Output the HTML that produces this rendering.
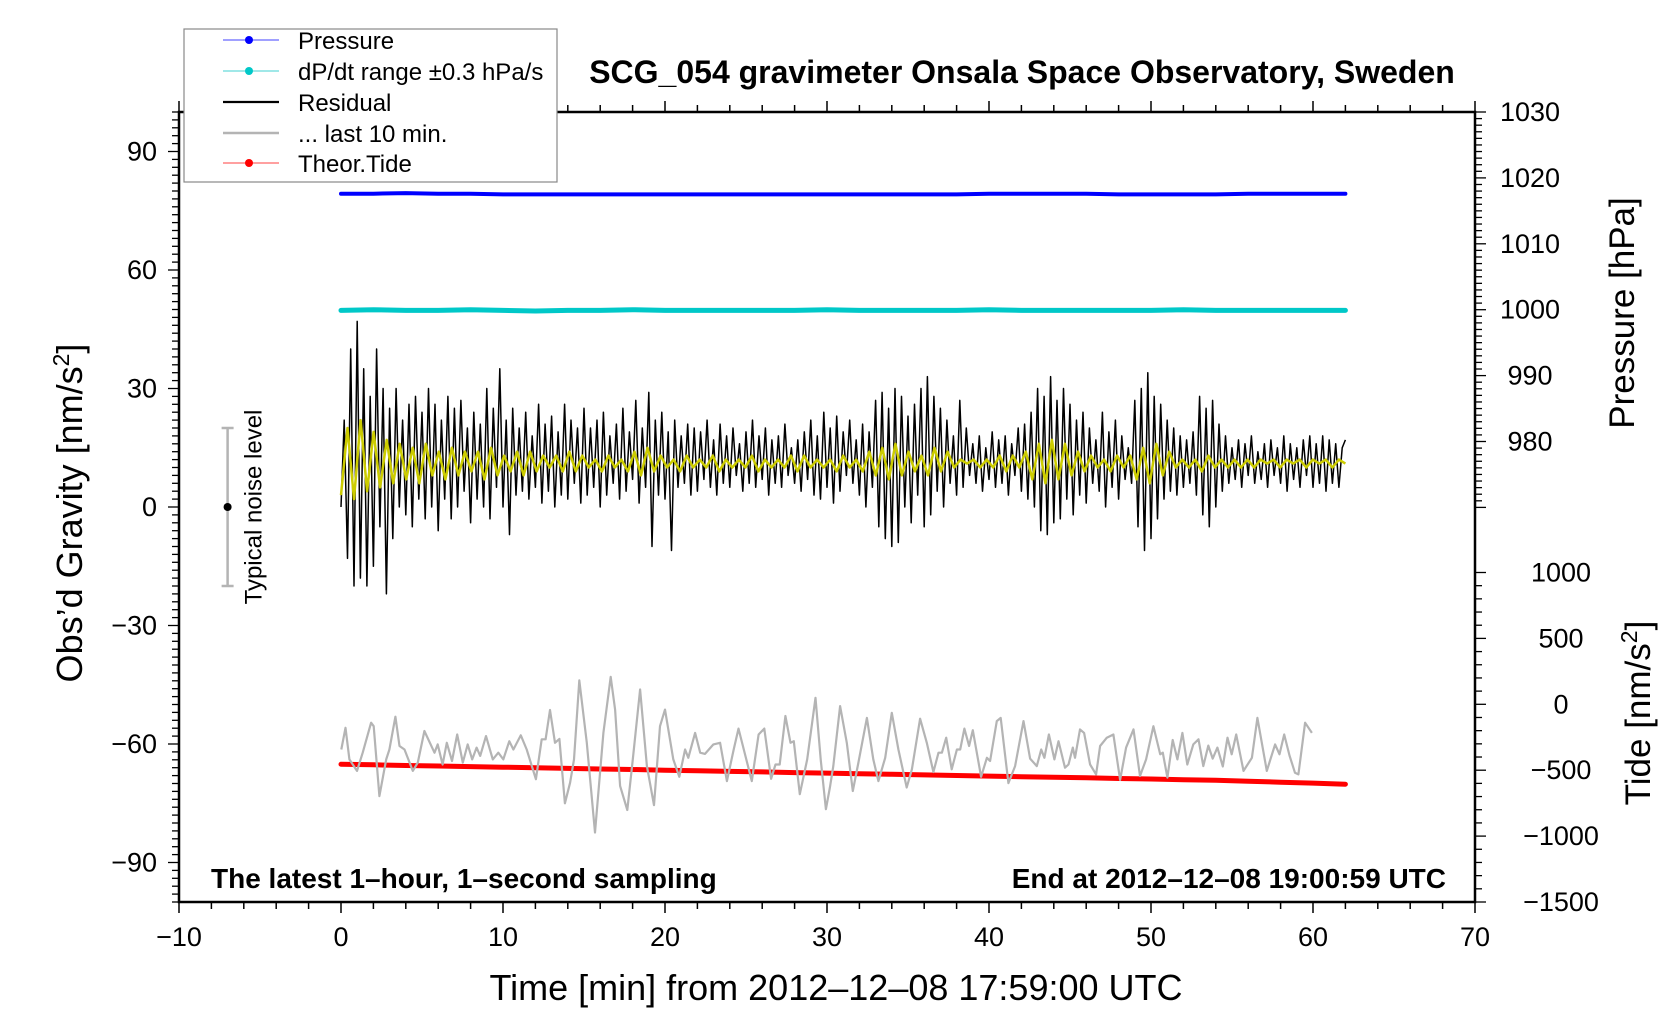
<!DOCTYPE html>
<html><head><meta charset="utf-8">
<style>
html,body{margin:0;padding:0;background:#fff;}
svg{display:block;font-family:"Liberation Sans",Arial,sans-serif;}
</style></head>
<body>
<svg id="chart" width="1676" height="1020" viewBox="0 0 1676 1020" xmlns="http://www.w3.org/2000/svg">
<rect x="0" y="0" width="1676" height="1020" fill="#fff"/>
<g id="marks"></g>
<g id="axes"></g>
<text x="1022" y="83" text-anchor="middle" font-size="32" font-weight="bold">SCG_054 gravimeter Onsala Space Observatory, Sweden</text>
<text x="211" y="888" font-size="28" font-weight="bold">The latest 1–hour, 1–second sampling</text>
<text x="1446" y="888" text-anchor="end" font-size="28" font-weight="bold">End at 2012–12–08 19:00:59 UTC</text>
<text x="836" y="1000" text-anchor="middle" font-size="36">Time [min] from 2012–12–08 17:59:00 UTC</text>
<text transform="translate(82,513) rotate(-90)" text-anchor="middle" font-size="36">Obs’d Gravity [nm/s<tspan baseline-shift="super" font-size="23">2</tspan>]</text>
<text transform="translate(1634,313) rotate(-90)" text-anchor="middle" font-size="35">Pressure [hPa]</text>
<text transform="translate(1650,713) rotate(-90)" text-anchor="middle" font-size="35">Tide [nm/s<tspan baseline-shift="super" font-size="23">2</tspan>]</text>
<g>
<rect x="184" y="29" width="373" height="153" fill="#fff" stroke="#888" stroke-width="1.2"/>
<g><line x1="223" y1="40" x2="279" y2="40" stroke="#4040ff" stroke-width="1"/><circle cx="249" cy="40" r="4" fill="#0000ff"/><text x="298" y="49" font-size="24">Pressure</text></g>
<g><line x1="223" y1="71" x2="279" y2="71" stroke="#40d0d0" stroke-width="1"/><circle cx="249" cy="71" r="4" fill="#00c8c8"/><text x="298" y="80" font-size="24">dP/dt range ±0.3 hPa/s</text></g>
<g><line x1="223" y1="102" x2="279" y2="102" stroke="#000" stroke-width="2.2"/><text x="298" y="111" font-size="24">Residual</text></g>
<g><line x1="223" y1="133" x2="279" y2="133" stroke="#b4b4b4" stroke-width="2.5"/><text x="298" y="142" font-size="24">... last 10 min.</text></g>
<g><line x1="223" y1="163" x2="279" y2="163" stroke="#ff4040" stroke-width="1"/><circle cx="249" cy="163" r="4" fill="#ff0000"/><text x="298" y="172" font-size="24">Theor.Tide</text></g>
</g>
</svg>
<script>
const xTicks=[-10,0,10,20,30,40,50,60,70];
const gravTicks=[-90,-60,-30,0,30,60,90];
const pressTicks=[980,990,1000,1010,1020,1030];
const tideTicks=[-1500,-1000,-500,0,500,1000];
const pressure=[1017.6,1017.6,1017.7,1017.6,1017.6,1017.5,1017.5,1017.5,1017.5,1017.5,1017.5,1017.5,1017.5,1017.5,1017.5,1017.5,1017.5,1017.5,1017.5,1017.5,1017.6,1017.6,1017.6,1017.6,1017.5,1017.5,1017.5,1017.5,1017.6,1017.6,1017.6,1017.6];
const dpdt=[999.9,1000.0,999.9,999.9,1000.0,999.9,999.8,999.9,999.9,1000.0,999.9,999.9,999.9,999.9,999.9,1000.0,999.9,999.9,999.9,999.9,1000.0,999.9,999.9,999.9,999.9,999.9,1000.0,999.9,999.9,999.9,999.9,999.9];
const tide=[-455,-459,-464,-468,-473,-477,-482,-486,-491,-495,-500,-504,-509,-513,-518,-522,-527,-531,-536,-540,-545,-549,-554,-558,-563,-567,-572,-577,-584,-591,-598,-606];
const residual=[0,22,-13,40,-20, 47,-18,35,-20,28, -15,40,-5,30,-22, 25,-8,30,0,22, -2,26,-5,28,2, 24,-3,30,0,26, -6,22,2,28,-3, 25,0,27,4,20, -4,24,2,21,0, 30,-3,25,5,35,
0,22,-7,25,3, 20,4,24,2,18, 5,26,1,21,4, 23,0,19,3,26, 2,22,6,20,1, 25,3,20,5,22, 0,24,3,18,6, 21,2,25,4,19, 7,27,1,20,5, 29,-10,22,3,24,
2,19,-11,22,5, 18,6,21,3,20, 4,19,7,22,5, 17,3,21,6,18, 5,20,8,16,4, 19,6,22,5,18, 7,20,3,17,6, 18,5,21,8,15, 6,17,4,19,7, 22,3,18,2,24,
5,20,1,23,4, 19,8,22,6,17, 3,21,0,19,5, 27,-5,29,-8,25, -10,30,-9,28,0, 23,-4,26,3,30, -5,33,-2,28,4, 25,0,22,6,18, 3,27,5,20,8, 16,6,18,4,15,
7,19,5,17,6, 18,3,16,8,20, 4,21,2,24,0, 30,-6,28,-7,33, -4,27,-3,30,2, 26,-2,22,3,24, 1,20,6,17,4, 24,0,19,5,22, 2,18,7,15,6, 27,-5,30,-11,34,
-8,28,-3,26,2, 22,4,20,3,18, 5,17,6,19,3, 28,-2,25,-5,27, 0,21,4,18,6, 15,7,17,5,16, 8,18,6,14,7, 16,5,17,8,15, 6,18,4,16,7, 15,5,17,8,18,
5,16,6,18,4, 17,6,16,5,15,17];
const smoothed=[3,20,2,22,4,19,5,17,6,16, 7,15,6,16,8,14,7,15,8,14, 9,14,7,15,8,13,9,14,8,14, 9,13,10,13,9,14,9,13,10,12, 9,13,10,12,9,14,8,15,9,13,
10,12,9,13,10,12,10,13,9,12, 10,12,10,13,9,12,10,12,10,13, 9,13,10,12,10,12,9,13,10,12, 9,14,8,15,7,16,8,14,9,13, 8,15,9,14,10,12,11,12,10,12,
10,13,9,13,10,14,7,16,6,17, 7,16,8,14,9,13,10,12,9,13, 10,13,7,15,6,16,8,14,10,12, 10,12,9,13,10,12,10,12,10,12, 10,12,11,12,10,12,11,12,10,12, 11,12,10,12,11];
const lastTimes=[0.02,0.28,0.52,0.99,1.34,1.86,2.02,2.37,2.79,2.99,3.36,3.61,3.92,4.43,4.74,5.15,5.77,5.97,6.27,6.53,6.85,7.17,7.52,7.82,8.10,8.37,8.59,8.95,9.37,9.71,10.02,10.39,10.64,11.10,11.46,12.03,12.39,12.63,12.90,13.21,13.48,13.82,14.14,14.38,14.71,15.17,15.68,16.20,16.65,16.92,17.23,17.67,18.01,18.46,18.88,19.32,19.69,20.00,20.51,20.88,21.24,21.44,21.86,22.17,22.47,22.99,23.40,23.82,24.24,24.54,25.36,25.78,26.13,26.55,26.82,27.08,27.43,27.75,27.95,28.32,28.78,29.29,29.61,29.93,30.18,30.39,30.81,31.22,31.59,31.94,32.46,32.86,33.17,33.59,34.00,34.41,34.92,35.24,35.75,36.16,36.57,36.88,37.09,37.36,37.70,38.02,38.22,38.48,38.77,39.00,39.51,39.87,40.07,40.48,40.72,41.20,41.61,42.13,42.54,42.95,43.22,43.42,43.70,44.04,44.29,44.69,44.91,45.17,45.31,45.62,45.87,46.24,46.61,46.86,47.27,47.68,48.09,48.46,48.92,49.32,49.70,50.15,50.57,50.73,51.01,51.34,51.63,51.94,52.24,52.61,52.93,53.23,53.54,53.81,54.10,54.43,54.72,54.98,55.26,55.71,56.23,56.57,57.15,57.66,57.93,58.22,58.55,58.89,59.10,59.51,59.93];
const lastValues=[-61.4,-55.9,-63.9,-66.8,-62.2,-54.6,-55.5,-73.2,-63.9,-61.4,-53.1,-60.5,-61.4,-66.8,-64.7,-56.7,-62.2,-60.1,-65.2,-59.7,-64.3,-57.6,-64.7,-60.1,-63.9,-60.9,-63.0,-58.0,-63.9,-62.2,-63.9,-59.3,-61.4,-57.8,-61.4,-68.9,-58.8,-58.8,-51.4,-59.7,-58.7,-75.0,-69.8,-63.9,-43.9,-59.7,-82.4,-57.2,-43.0,-51.3,-70.6,-76.7,-63.9,-46.2,-65.6,-75.5,-55.5,-51.3,-63.9,-68.3,-61.4,-63.5,-57.2,-62.2,-62.5,-60.1,-59.7,-69.4,-61.4,-56.1,-69.4,-57.6,-56.1,-68.8,-65.2,-65.2,-52.9,-59.7,-59.3,-72.7,-63.9,-48.3,-63.9,-76.5,-71.0,-65.6,-50.4,-59.7,-71.9,-64.7,-53.4,-63.9,-69.4,-63.5,-52.1,-61.4,-71.0,-66.4,-53.6,-59.7,-67.1,-62.2,-62.2,-58.4,-66.4,-61.4,-61.4,-56.1,-60.5,-56.5,-68.3,-63.5,-64.3,-54.2,-53.4,-69.9,-65.6,-54.2,-63.7,-65.6,-61.4,-63.5,-57.6,-63.9,-59.3,-66.0,-65.2,-60.9,-63.5,-56.3,-57.2,-65.2,-67.7,-60.5,-58.4,-57.6,-69.1,-60.9,-56.3,-68.1,-63.9,-55.5,-62.6,-62.2,-68.5,-59.0,-63.9,-57.2,-65.2,-60.1,-58.8,-65.6,-60.4,-63.7,-60.9,-65.7,-58.4,-62.6,-57.6,-66.8,-63.5,-53.4,-66.8,-60.1,-62.6,-57.6,-62.9,-67.3,-67.7,-54.6,-57.2];
const noiseLevel=[-20,0,20];
const seriesEnd=62;

const NS='http://www.w3.org/2000/svg';
const L=179,R=1475,T=112,B=902;
const xs=m=>L+(m+10)*(R-L)/80;
const yg=v=>507-v*(B-T)/200;
const yp=p=>T+(1030-p)*6.59;
const yt=t=>B-(t+1500)*0.1318;
const marks=document.getElementById('marks');
const axes=document.getElementById('axes');
function el(tag,attrs,parent){const e=document.createElementNS(NS,tag);for(const k in attrs)e.setAttribute(k,attrs[k]);parent.appendChild(e);return e;}
function uniformPath(vals,t0,t1,yf){const n=vals.length;let d='';for(let i=0;i<n;i++){const x=xs(t0+(t1-t0)*i/(n-1));d+=(i?'L':'M')+x.toFixed(1)+' '+yf(vals[i]).toFixed(1);}return d;}

let p=el('path',{d:uniformPath(pressure,0,seriesEnd,yp),fill:'none',stroke:'#0000ff','stroke-width':4,'stroke-linecap':'round'},marks);


p=el('path',{d:uniformPath(dpdt,0,seriesEnd,yp),fill:'none',stroke:'#00c8c8','stroke-width':5,'stroke-linecap':'round'},marks);


p=el('path',{d:uniformPath(residual,0,seriesEnd,yg),fill:'none',stroke:'#000','stroke-width':1.5,'stroke-linejoin':'round'},marks);


p=el('path',{d:uniformPath(smoothed,0,seriesEnd,yg),fill:'none',stroke:'#cccc00','stroke-width':2.5,'stroke-linejoin':'round'},marks);


p=el('path',{d:uniformPath(tide,0,seriesEnd,yt),fill:'none',stroke:'#ff0000','stroke-width':5,'stroke-linecap':'round'},marks);


let gd='';lastTimes.forEach((t,i)=>{gd+=(i?'L':'M')+xs(t).toFixed(1)+' '+yg(lastValues[i]).toFixed(1);});
p=el('path',{d:gd,fill:'none',stroke:'#b4b4b4','stroke-width':2.2,'stroke-linejoin':'round'},marks);



const nx=xs(-7);
const ng=el('g',{},marks);


el('line',{x1:nx,x2:nx,y1:yg(noiseLevel[0]),y2:yg(noiseLevel[2]),stroke:'#b4b4b4','stroke-width':2.5},ng);
el('line',{x1:nx-6,x2:nx+6,y1:yg(noiseLevel[0]),y2:yg(noiseLevel[0]),stroke:'#b4b4b4','stroke-width':2.5},ng);
el('line',{x1:nx-6,x2:nx+6,y1:yg(noiseLevel[2]),y2:yg(noiseLevel[2]),stroke:'#b4b4b4','stroke-width':2.5},ng);
el('circle',{cx:nx,cy:yg(noiseLevel[1]),r:4,fill:'#000'},ng);
const nt=el('text',{transform:`translate(${nx+34},${yg(noiseLevel[1])}) rotate(-90)`,'text-anchor':'middle','font-size':24},ng);
nt.textContent='Typical noise level';

const fr=el('rect',{x:L,y:T,width:R-L,height:B-T,fill:'none',stroke:'#000','stroke-width':2.5},axes);


for(let m=-10;m<=70;m+=2){const maj=m%10===0;const x=xs(m);
 el('line',{x1:x,x2:x,y1:B,y2:B+(maj?11:7),stroke:'#000','stroke-width':1.5},axes);
 el('line',{x1:x,x2:x,y1:T,y2:T-(maj?11:7),stroke:'#000','stroke-width':1.5},axes);}
xTicks.forEach(m=>{const t=el('text',{x:xs(m),y:946,'text-anchor':'middle','font-size':27},axes);
 
 
 t.textContent=(m<0?'−':'')+Math.abs(m);});
for(let v=-100;v<=100;v+=2){const maj=v%30===0;const y=yg(v);
 el('line',{x1:L,x2:L-(maj?11:7),y1:y,y2:y,stroke:'#000','stroke-width':1.3},axes);}
gravTicks.forEach(v=>{const t=el('text',{x:157,y:yg(v)+9,'text-anchor':'end','font-size':27},axes);
 
 
 t.textContent=(v<0?'−':'')+Math.abs(v);});
for(let pv=970;pv<=1030;pv+=1){const maj=pv%10===0;const y=yp(pv);
 el('line',{x1:R,x2:R+(maj?11:7),y1:y,y2:y,stroke:'#000','stroke-width':1.3},axes);}
pressTicks.forEach(pv=>{const t=el('text',{x:1530,y:yp(pv)+9,'text-anchor':'middle','font-size':27},axes);
 
 
 t.textContent=pv;});
for(let tv=-1500;tv<=1000;tv+=100){const maj=tv%500===0;const y=yt(tv);
 el('line',{x1:R,x2:R+(maj?11:7),y1:y,y2:y,stroke:'#000','stroke-width':1.3},axes);}
tideTicks.forEach(tv=>{const t=el('text',{x:1561,y:yt(tv)+9,'text-anchor':'middle','font-size':27},axes);
 
 
 t.textContent=(tv<0?'−':'')+Math.abs(tv);});
</script>
</body></html>
